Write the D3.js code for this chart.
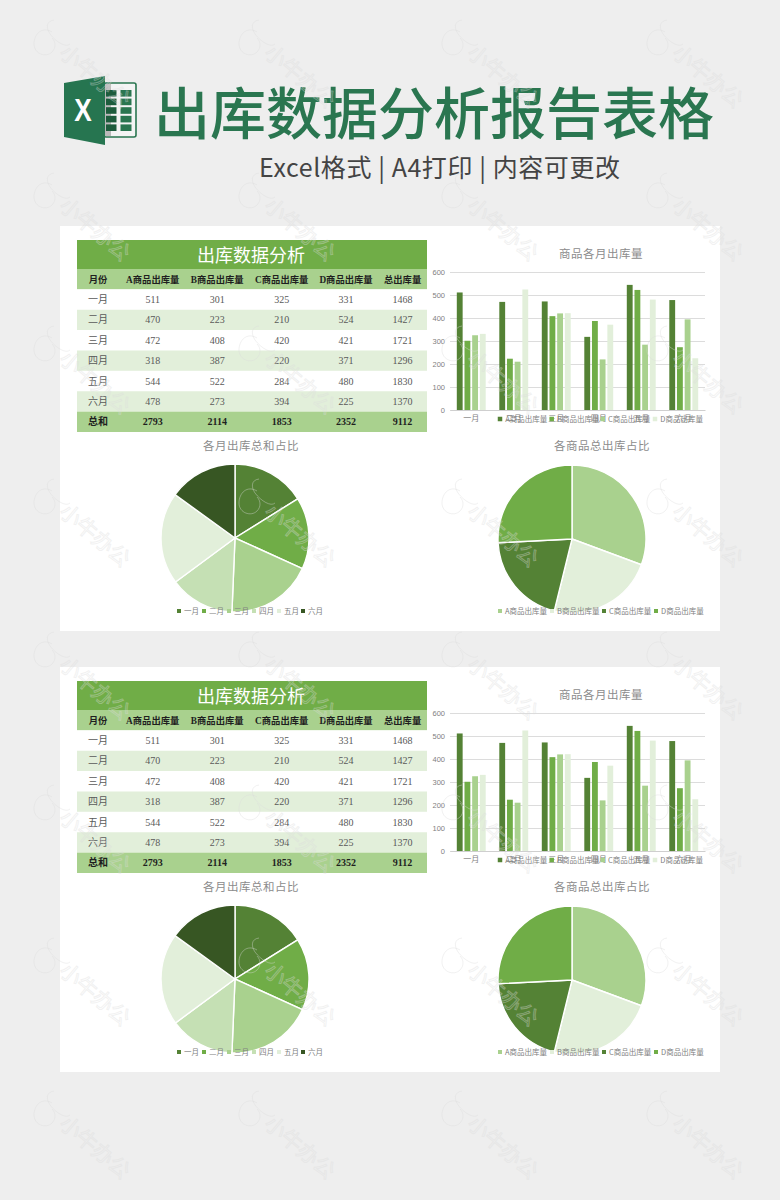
<!DOCTYPE html>
<html>
<head>
<meta charset="utf-8">
<script src="https://cdnjs.cloudflare.com/ajax/libs/d3/7.8.5/d3.min.js"></script>
<style>
html, body { margin: 0; padding: 0; background: #eeeeee; }
svg { display: block; }
text { font-family: "Noto Sans CJK SC", "Noto Sans", sans-serif; }
</style>
</head>
<body>
<div id="chart"></div>
<script>
var months = ["一月", "二月", "三月", "四月", "五月", "六月"];
var products = ["A商品出库量", "B商品出库量", "C商品出库量", "D商品出库量"];
var headers = ["月份", "A商品出库量", "B商品出库量", "C商品出库量", "D商品出库量", "总出库量"];
var aQty = [511, 470, 472, 318, 544, 478];
var bQty = [301, 223, 408, 387, 522, 273];
var cQty = [325, 210, 420, 220, 284, 394];
var dQty = [331, 524, 421, 371, 480, 225];
var monthTotals = [1468, 1427, 1721, 1296, 1830, 1370];
var productTotals = [2793, 2114, 1853, 2352];
var grandTotal = 9112;
var yTicks = [0, 100, 200, 300, 400, 500, 600];

var barColors = ["#548235", "#70ad47", "#a9d18e", "#e2efda"];
var monthColors = ["#548235", "#70ad47", "#a9d18e", "#c5e0b4", "#e2efda", "#375623"];
var productColors = ["#a9d18e", "#e2efda", "#548235", "#70ad47"];

var serif = '"Liberation Serif", "Noto Sans CJK SC", serif';
var grey = "#8c8c8c";

var svg = d3.select("#chart").append("svg").attr("width", 780).attr("height", 1200);
svg.append("rect").attr("width", 780).attr("height", 1200).attr("fill", "#eeeeee");

// header
var icon = svg.append("g");
icon.append("rect").attr("x", 104).attr("y", 83).attr("width", 32).attr("height", 54).attr("rx", 2)
  .attr("fill", "#f4f4f4").attr("stroke", "#2a7650").attr("stroke-width", 1.6);
icon.append("rect").attr("x", 105).attr("y", 84).attr("width", 6).attr("height", 52).attr("fill", "#b9b9b9");
d3.range(5).forEach(function(r) {
  d3.range(2).forEach(function(c) {
    icon.append("rect").attr("x", 106 + c * 14.5).attr("y", 90 + r * 8.6)
      .attr("width", c ? 11 : 10.5).attr("height", 6.6)
      .attr("fill", c ? "#2a7650" : "#1d5c3c");
  });
});
icon.append("path").attr("d", d3.line()([[64, 83], [105, 76], [105, 145], [64, 137]]) + "Z").attr("fill", "#267550");
icon.append("text").attr("transform", "translate(83,121) scale(0.82,1)").attr("text-anchor", "middle")
  .attr("font-size", 32).attr("font-weight", 700).attr("fill", "#fff")
  .style("font-family", '"Liberation Sans", sans-serif').text("X");

svg.append("text").attr("x", 154).attr("y", 134).attr("font-size", 56).attr("font-weight", 500)
  .attr("fill", "#2a7650").text("出库数据分析报告表格");
svg.append("text").attr("x", 259).attr("y", 177).attr("font-size", 25).attr("fill", "#444")
  .text("Excel格式 | A4打印 | 内容可更改").attr("textLength", 361).attr("lengthAdjust", "spacing");

function panel(top) {
  var g = svg.append("g").attr("transform", "translate(60," + top + ")");
  g.append("rect").attr("width", 660).attr("height", 405).attr("fill", "#fff");
  drawTable(g);
  drawBars(g);
  drawPie(g, monthTotals, months, monthColors, 175, 312, "各月出库总和占比", 191, [119, 144, 169, 194, 219, 243]);
  drawPie(g, productTotals, products, productColors, 512, 313, "各商品总出库占比", 542, [440, 492, 544, 596]);
}

function drawTable(g) {
  var left = 17, w = 350;
  var colX = [38, 92.7, 157.2, 221.7, 286, 342.6];
  var y = d3.scaleBand().domain(d3.range(8)).range([43, 206]);

  g.append("rect").attr("x", left).attr("y", 14).attr("width", w).attr("height", 29).attr("fill", "#70ad47");
  g.append("text").attr("x", left + w / 2 - 1).attr("y", 35.5).attr("text-anchor", "middle")
    .attr("font-size", 18).attr("fill", "#fff").text("出库数据分析");

  var rows = [headers];
  months.forEach(function(m, i) {
    rows.push([m, aQty[i], bQty[i], cQty[i], dQty[i], monthTotals[i]]);
  });
  rows.push(["总和", productTotals[0], productTotals[1], productTotals[2], productTotals[3], grandTotal]);

  var row = g.selectAll(".row").data(rows).enter().append("g").attr("class", "row");
  row.append("rect").attr("x", left).attr("width", w)
    .attr("y", function(d, i) { return y(i); }).attr("height", y.bandwidth())
    .attr("fill", function(d, i) {
      if (i == 0 || i == 7) return "#a9d18e";
      return i % 2 == 0 ? "#e2efda" : "#fff";
    });
  row.each(function(d, i) {
    var bold = i == 0 || i == 7;
    d3.select(this).selectAll("text").data(d).enter().append("text")
      .attr("x", function(c, j) { return colX[j]; })
      .attr("y", y(i) + y.bandwidth() / 2 + 3.5)
      .attr("text-anchor", "middle")
      .attr("font-size", i == 0 ? 9.3 : 10)
      .attr("font-weight", bold ? 700 : 400)
      .attr("fill", bold ? "#1f1f1f" : "#595959")
      .style("font-family", serif)
      .text(function(c) { return c; });
  });
}

function drawBars(g) {
  var series = [aQty, bQty, cQty, dQty];
  var x0 = d3.scaleBand().domain(months).range([390, 645]).paddingInner(0.32).paddingOuter(0.16);
  var x1 = d3.scaleBand().domain(d3.range(4)).range([0, x0.bandwidth()]).paddingInner(0.24);
  var y = d3.scaleLinear().domain([0, 600]).range([184, 46]);

  g.append("text").attr("x", 541).attr("y", 32).attr("text-anchor", "middle")
    .attr("font-size", 11.5).attr("letter-spacing", 0.5).attr("fill", grey).text("商品各月出库量");

  var axisY = g.append("g").attr("transform", "translate(390,0)")
    .call(d3.axisLeft(y).tickValues(yTicks).tickSize(-255).tickPadding(5));
  axisY.select(".domain").remove();
  axisY.selectAll("line").attr("stroke", "#dcdcdc");
  axisY.selectAll("text").attr("font-size", 7.5).attr("fill", "#7f7f7f")
    .style("font-family", '"Liberation Sans", sans-serif');

  series.forEach(function(vals, s) {
    g.selectAll(".bar" + s).data(vals).enter().append("rect").attr("class", "bar" + s)
      .attr("x", function(d, i) { return x0(months[i]) + x1(s); })
      .attr("y", function(d) { return y(d); })
      .attr("width", x1.bandwidth())
      .attr("height", function(d) { return y(0) - y(d); })
      .attr("fill", barColors[s]);
  });

  var axisX = g.append("g").attr("transform", "translate(0,184)")
    .call(d3.axisBottom(x0).tickSize(0).tickPadding(5));
  axisX.select(".domain").attr("stroke", "#cfcfcf");
  axisX.selectAll("text").attr("font-size", 8).attr("fill", "#7f7f7f");

  legend(g, products, barColors, [440, 491.7, 542.7, 595], 193, 4.5);
}

function drawPie(g, vals, labels, colors, cx, cy, title, titleX, legendX) {
  var pie = d3.pie().sort(null);
  var arc = d3.arc().innerRadius(0).outerRadius(74);
  var c = g.append("g").attr("transform", "translate(" + cx + "," + cy + ")");
  c.selectAll("path").data(pie(vals)).enter().append("path")
    .attr("d", arc)
    .attr("fill", function(d, i) { return colors[i]; })
    .attr("stroke", "#fff").attr("stroke-width", 1.4);

  g.append("text").attr("x", titleX).attr("y", 224).attr("text-anchor", "middle")
    .attr("font-size", 11.5).attr("letter-spacing", 0.5).attr("fill", grey).text(title);

  legend(g, labels, colors, legendX, 385, 4);
}

function legend(g, labels, colors, xs, y, size) {
  var item = g.selectAll(null).data(labels).enter().append("g")
    .attr("transform", function(d, i) { return "translate(" + xs[i] + "," + y + ")"; });
  item.append("rect").attr("x", -size / 2).attr("y", -size / 2).attr("width", size).attr("height", size)
    .attr("fill", function(d, i) { return colors[i]; });
  item.append("text").attr("x", size / 2 + 3).attr("y", 3).attr("font-size", 7.5).attr("fill", "#808080")
    .text(function(d) { return d; });
}

panel(226);
panel(667);

// watermark
var wmX = [32, 237, 440, 645];
var wmY = [18, 171, 324, 477, 630, 783, 936, 1089];
wmY.forEach(function(yy) {
  wmX.forEach(function(xx) {
    var w = svg.append("g").attr("transform", "translate(" + xx + "," + yy + ")")
      .attr("fill", "none").attr("stroke", "#dcdcdc").attr("stroke-opacity", 0.4).attr("stroke-width", 1);
    w.append("path").attr("d", "M22 2C14 3 14 10 18 16C24 24 34 30 38 26M20 14C10 8 2 16 2 26C2 36 14 40 20 34C24 30 24 24 20 20");
    w.append("text").attr("transform", "translate(26,37) rotate(40)").attr("font-size", 21).text("小牛办公");
  });
});
</script>
</body>
</html>
